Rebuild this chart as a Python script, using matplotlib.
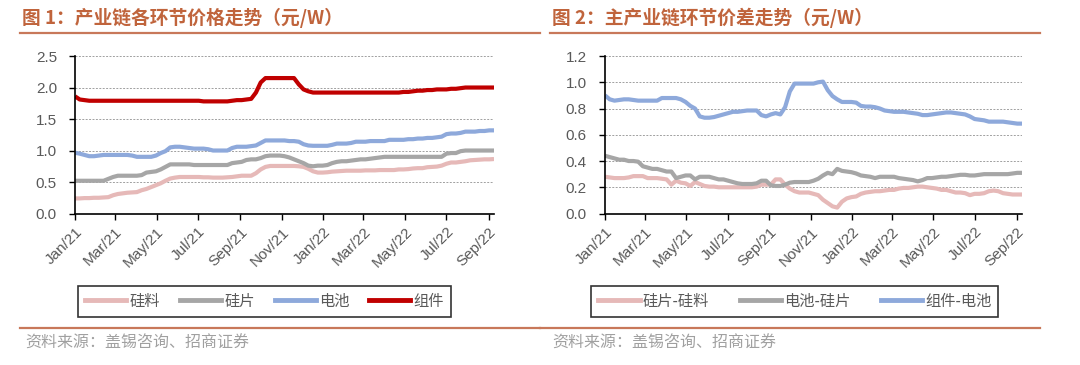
import numpy as np
import pandas as pd
import matplotlib
matplotlib.use("Agg")
import matplotlib.pyplot as plt
import matplotlib.dates as mdates
from matplotlib.lines import Line2D

plt.rcParams['font.family'] = ['Liberation Sans', 'Noto Sans CJK SC', 'DejaVu Sans']

# weekly price data, Jan 2021 - Sep 2022 (元/W)
dates = pd.date_range('2021-01-01', periods=89, freq='7D')

poly = [0.24, 0.24, 0.245, 0.245, 0.25, 0.25, 0.255, 0.26, 0.29, 0.31,
        0.32, 0.33, 0.335, 0.34, 0.37, 0.39, 0.42, 0.45, 0.48, 0.52,
        0.555, 0.57, 0.58, 0.58, 0.58, 0.58, 0.58, 0.575, 0.575, 0.57,
        0.57, 0.57, 0.575, 0.58, 0.59, 0.60, 0.60, 0.60, 0.64, 0.70,
        0.74, 0.755, 0.755, 0.755, 0.755, 0.755, 0.755, 0.75, 0.74, 0.71,
        0.67, 0.65, 0.65, 0.655, 0.665, 0.67, 0.675, 0.68, 0.68, 0.68,
        0.68, 0.685, 0.685, 0.685, 0.69, 0.69, 0.69, 0.69, 0.70, 0.70,
        0.705, 0.715, 0.72, 0.72, 0.735, 0.74, 0.745, 0.76, 0.79, 0.81,
        0.81, 0.82, 0.83, 0.845, 0.85, 0.855, 0.86, 0.86, 0.865]

wafer = [0.52, 0.52, 0.52, 0.52, 0.52, 0.52, 0.52, 0.55, 0.58, 0.60,
         0.60, 0.60, 0.60, 0.60, 0.61, 0.65, 0.66, 0.67, 0.70, 0.74,
         0.78, 0.78, 0.78, 0.78, 0.78, 0.77, 0.77, 0.77, 0.77, 0.77,
         0.77, 0.77, 0.77, 0.80, 0.81, 0.82, 0.85, 0.86, 0.86, 0.88,
         0.91, 0.92, 0.92, 0.92, 0.91, 0.89, 0.86, 0.83, 0.80, 0.76,
         0.75, 0.76, 0.76, 0.77, 0.80, 0.82, 0.83, 0.83, 0.84, 0.85,
         0.86, 0.86, 0.87, 0.88, 0.89, 0.90, 0.90, 0.90, 0.90, 0.90,
         0.90, 0.90, 0.90, 0.90, 0.90, 0.90, 0.90, 0.90, 0.95, 0.96,
         0.96, 0.99, 1.00, 1.00, 1.00, 1.00, 1.00, 1.00, 1.00]

cell = [0.965, 0.95, 0.93, 0.91, 0.91, 0.92, 0.93, 0.93, 0.93, 0.93,
        0.93, 0.93, 0.92, 0.90, 0.90, 0.90, 0.90, 0.92, 0.96, 0.99,
        1.05, 1.06, 1.06, 1.05, 1.04, 1.03, 1.03, 1.03, 1.02, 1.00,
        1.00, 1.00, 1.00, 1.04, 1.06, 1.06, 1.06, 1.07, 1.08, 1.12,
        1.16, 1.16, 1.16, 1.16, 1.16, 1.15, 1.15, 1.14, 1.10, 1.08,
        1.075, 1.075, 1.075, 1.075, 1.09, 1.11, 1.11, 1.11, 1.12, 1.14,
        1.14, 1.14, 1.15, 1.15, 1.15, 1.15, 1.17, 1.17, 1.17, 1.17,
        1.18, 1.18, 1.19, 1.19, 1.20, 1.20, 1.21, 1.22, 1.26, 1.27,
        1.27, 1.28, 1.30, 1.30, 1.30, 1.31, 1.31, 1.32, 1.32]

module = [1.86, 1.81, 1.80, 1.79, 1.79, 1.79, 1.79, 1.79, 1.79, 1.79,
          1.79, 1.79, 1.79, 1.79, 1.79, 1.79, 1.79, 1.79, 1.79, 1.79,
          1.79, 1.79, 1.79, 1.79, 1.79, 1.79, 1.79, 1.78, 1.78, 1.78,
          1.78, 1.78, 1.78, 1.79, 1.80, 1.80, 1.81, 1.82, 1.92, 2.08,
          2.15, 2.15, 2.15, 2.15, 2.15, 2.15, 2.15, 2.05, 1.97, 1.94,
          1.92, 1.92, 1.92, 1.92, 1.92, 1.92, 1.92, 1.92, 1.92, 1.92,
          1.92, 1.92, 1.92, 1.92, 1.92, 1.92, 1.92, 1.92, 1.92, 1.93,
          1.93, 1.94, 1.95, 1.95, 1.96, 1.96, 1.97, 1.97, 1.97, 1.98,
          1.98, 1.99, 2.00, 2.00, 2.00, 2.00, 2.00, 2.00, 2.00]

wafer_poly = [0.28, 0.275, 0.27, 0.27, 0.27, 0.275, 0.285, 0.285, 0.285, 0.27,
              0.27, 0.27, 0.265, 0.26, 0.22, 0.25, 0.235, 0.23, 0.21, 0.24,
              0.225, 0.21, 0.205, 0.205, 0.20, 0.20, 0.20, 0.20, 0.20, 0.20,
              0.20, 0.20, 0.205, 0.22, 0.22, 0.22, 0.26, 0.26, 0.22, 0.19,
              0.17, 0.16, 0.16, 0.16, 0.15, 0.14, 0.105, 0.08, 0.055, 0.045,
              0.09, 0.115, 0.125, 0.13, 0.15, 0.16, 0.165, 0.17, 0.17, 0.175,
              0.18, 0.18, 0.19, 0.195, 0.195, 0.20, 0.205, 0.205, 0.20, 0.195,
              0.19, 0.18, 0.18, 0.17, 0.16, 0.16, 0.155, 0.14, 0.15, 0.15,
              0.155, 0.17, 0.175, 0.17, 0.155, 0.15, 0.145, 0.145, 0.145]

cell_wafer = [0.44, 0.43, 0.42, 0.41, 0.41, 0.40, 0.40, 0.395, 0.36, 0.35,
              0.34, 0.34, 0.33, 0.32, 0.32, 0.27, 0.28, 0.29, 0.29, 0.26,
              0.28, 0.28, 0.28, 0.27, 0.26, 0.26, 0.25, 0.24, 0.23, 0.225,
              0.225, 0.225, 0.23, 0.25, 0.25, 0.215, 0.21, 0.21, 0.22, 0.235,
              0.24, 0.24, 0.24, 0.24, 0.25, 0.265, 0.29, 0.31, 0.30, 0.34,
              0.325, 0.32, 0.315, 0.305, 0.29, 0.285, 0.28, 0.27, 0.28, 0.28,
              0.28, 0.28, 0.27, 0.265, 0.26, 0.255, 0.245, 0.255, 0.27, 0.27,
              0.275, 0.28, 0.28, 0.285, 0.29, 0.295, 0.295, 0.29, 0.29, 0.295,
              0.30, 0.30, 0.30, 0.30, 0.30, 0.30, 0.305, 0.31, 0.31]

module_cell = [0.90, 0.87, 0.86, 0.865, 0.87, 0.87, 0.865, 0.86, 0.86, 0.86,
               0.86, 0.86, 0.88, 0.88, 0.88, 0.88, 0.87, 0.85, 0.82, 0.80,
               0.74, 0.73, 0.73, 0.735, 0.745, 0.755, 0.765, 0.775, 0.775, 0.78,
               0.785, 0.785, 0.785, 0.75, 0.74, 0.755, 0.765, 0.755, 0.81, 0.93,
               0.99, 0.99, 0.99, 0.99, 0.99, 1.00, 1.005, 0.94, 0.895, 0.87,
               0.85, 0.85, 0.85, 0.845, 0.82, 0.815, 0.815, 0.81, 0.80, 0.785,
               0.78, 0.775, 0.775, 0.775, 0.77, 0.765, 0.76, 0.75, 0.75, 0.755,
               0.76, 0.765, 0.77, 0.77, 0.765, 0.76, 0.755, 0.74, 0.72, 0.715,
               0.71, 0.70, 0.70, 0.70, 0.70, 0.695, 0.69, 0.685, 0.685]

left_labels = ['硅料', '硅片', '电池', '组件']
left_colors = ['#E6B9B8', '#A6A6A6', '#8EA9DB', '#C00000']
right_labels = ['硅片-硅料', '电池-硅片', '组件-电池']
right_colors = ['#E6B9B8', '#A6A6A6', '#8EA9DB']

title_color = '#C0643C'
text_gray = '#595959'
cjk = ['Noto Sans CJK SC', 'DejaVu Sans']


def style_axis(ax, ymax, ystep):
    ax.set_ylim(0, ymax)
    ax.set_yticks(np.arange(0, ymax + 1e-9, ystep))
    ax.yaxis.set_major_formatter(plt.FormatStrFormatter('%.1f'))
    ax.set_xlim(dates[0], dates[-1])
    ax.xaxis.set_major_locator(mdates.MonthLocator(bymonth=[1, 3, 5, 7, 9, 11]))
    ax.xaxis.set_major_formatter(mdates.DateFormatter('%b/%y'))
    for t in ax.get_xticklabels():
        t.set_rotation(45)
        t.set_ha('right')
        t.set_rotation_mode('anchor')
    ax.tick_params(axis='both', labelsize=11, colors='black', labelcolor=text_gray,
                   direction='out', length=4, width=1)
    ax.tick_params(axis='x', pad=4)
    ax.tick_params(axis='y', pad=9)
    ax.spines['top'].set_visible(False)
    ax.spines['right'].set_visible(False)
    ax.spines['left'].set_linewidth(1.2)
    ax.spines['bottom'].set_linewidth(1.2)
    for y in ax.get_yticks()[1:]:
        ax.axhline(y, color='#A0A0A0', linestyle=(0, (2, 1.5)), linewidth=0.7, zorder=0)


def add_legend(fig, labels, colors, center_x, colspace):
    handles = [Line2D([0], [0], color=c, lw=3.5) for c in colors]
    leg = fig.legend(handles, labels, loc='center', bbox_to_anchor=(center_x, 0.175),
                     ncol=len(labels), frameon=True, fancybox=False,
                     prop={'family': cjk, 'size': 11}, handlelength=2.7,
                     handletextpad=0.2, columnspacing=colspace, borderpad=0.45)
    leg.get_frame().set_edgecolor('black')
    leg.get_frame().set_linewidth(1.2)
    for t in leg.get_texts():
        t.set_color(text_gray)
    return leg


fig = plt.figure(figsize=(10.8, 3.65), dpi=100)

ax1 = fig.add_axes([75 / 1080, 0.415, 419 / 1080, 0.4315])
for vals, c in zip([poly, wafer, cell, module], left_colors):
    ax1.plot(dates, vals, color=c, lw=3, solid_capstyle='butt')
style_axis(ax1, 2.5, 0.5)

ax2 = fig.add_axes([605 / 1080, 0.415, 417 / 1080, 0.4315])
for vals, c in zip([wafer_poly, cell_wafer, module_cell], right_colors):
    ax2.plot(dates, vals, color=c, lw=3, solid_capstyle='butt')
style_axis(ax2, 1.2, 0.2)

add_legend(fig, left_labels, left_colors, 0.245, 1.3)
add_legend(fig, right_labels, right_colors, 0.736, 2.0)

# titles
fig.text(22 / 1080, 1 - 18 / 365, '图 1：产业链各环节价格走势（元/W）', color=title_color,
         fontsize=13.5, fontweight='bold', family=cjk, va='center', ha='left')
fig.text(552 / 1080, 1 - 18 / 365, '图 2：主产业链环节价差走势（元/W）', color=title_color,
         fontsize=13.5, fontweight='bold', family=cjk, va='center', ha='left')

# separator lines
line_color = '#C8785A'
fig.add_artist(Line2D([20 / 1080, 540 / 1080], [1 - 33 / 365] * 2, color=line_color, lw=1.6))
fig.add_artist(Line2D([550 / 1080, 1040 / 1080], [1 - 33 / 365] * 2, color=line_color, lw=1.6))
fig.add_artist(Line2D([20 / 1080, 540 / 1080], [1 - 328 / 365] * 2, color=line_color, lw=1.6))
fig.add_artist(Line2D([540 / 1080, 1040 / 1080], [1 - 328 / 365] * 2, color=line_color, lw=1.6))

# sources
fig.text(25 / 1080, 1 - 343 / 365, '资料来源：盖锡咨询、招商证券', color='#A0A0A0',
         fontsize=11.5, family=cjk, va='center', ha='left')
fig.text(552 / 1080, 1 - 343 / 365, '资料来源：盖锡咨询、招商证券', color='#A0A0A0',
         fontsize=11.5, family=cjk, va='center', ha='left')

plt.savefig('out.png', dpi=100)
